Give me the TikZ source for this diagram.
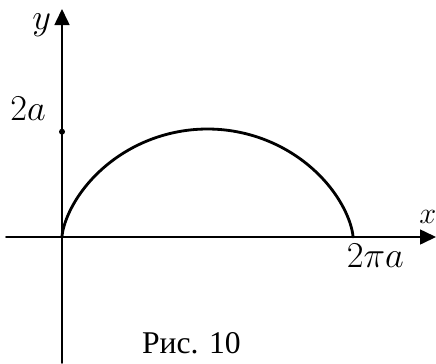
\documentclass[tikz,border=0pt]{standalone}
\usepackage{fontspec}
\setmainfont{Liberation Serif}
\newfontfamily\capfont{Liberation Serif}
\usepackage{tikz}
\usetikzlibrary{arrows.meta}
\tikzset{
  every picture/.style={line join=round, line cap=round, >={Triangle[length=0.32cm,width=0.30cm]}},
  axis/.style={line width=0.9pt},
  arch/.style={line width=1.6pt},
  lbl/.style={inner sep=0pt, font=\fontsize{20}{24}\selectfont},
}

\begin{document}
\begin{tikzpicture}
\useasboundingbox (-1.240,-2.520) rectangle (7.480,4.740);
\coordinate (O) at (0.000,0.000);
\coordinate (xs) at (-1.120,0.000);
\coordinate (xe) at (7.480,0.000);
\coordinate (ys) at (0.000,-2.520);
\coordinate (ye) at (0.000,4.560);
\draw[->,axis] (xs)--(xe);
\draw[->,axis] (ys)--(ye);
\node[lbl,anchor=base west,font=\fontsize{17}{20}\selectfont] (xlab) at (7.140,0.274) {$x$};
\node[lbl,anchor=base west] (ylab) at (-0.600,4.160) {$y$};
\fill (0.000,2.106) circle[radius=0.06];
\node[lbl,anchor=base west] (twoa) at (-1.040,2.340) {$2a$};
\node[lbl,anchor=base west] (twopia) at (5.690,-0.600) {$2\pi a$};
\draw[arch,domain=0:6.2832,samples=150,variable=\t] plot({5.82*(\t-sin(\t r))/6.2832},{1.08*(1-cos(\t r))});
\node[lbl,anchor=base west,font=\capfont\fontsize{18}{21}\selectfont] (cap) at (1.594,-2.320) {Рис. 10};
\end{tikzpicture}
\end{document}
